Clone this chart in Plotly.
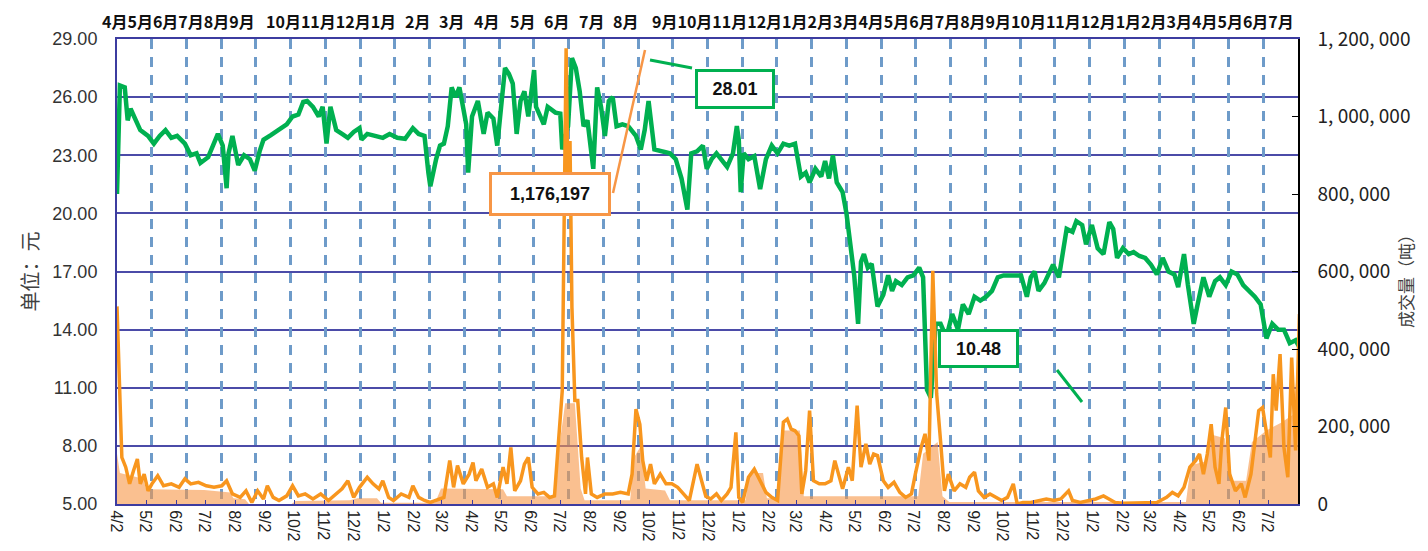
import pandas as pd
import plotly.graph_objects as go

# ---------------- data ----------------
START = "2011-04-02"
END = "2014-08-01T12:00"

PRICE_DAY = [0, 3, 8, 11, 14, 20, 24, 32, 38, 44, 50, 56, 62, 70, 76, 82, 86, 94, 100, 104,
             109, 113, 115, 119, 125, 131, 137, 142, 147, 151, 159, 167, 175, 181, 187, 192, 196, 202, 208, 212,
             216, 220, 226, 232, 238, 244, 250, 252, 258, 266, 274, 281, 289, 297, 305, 311, 317, 321, 323, 329,
             333, 337, 341, 345, 349, 353, 357, 360, 362, 366, 372, 378, 382, 388, 392, 396, 400, 404, 408, 412,
             416, 420, 424, 430, 432, 440, 444, 452, 457, 459, 465, 469, 473, 477, 481, 485, 491, 495, 499, 503,
             507, 511, 515, 521, 527, 535, 540, 544, 548, 554, 562, 570, 576, 582, 588, 592, 598, 604, 608, 613,
             618, 623, 629, 635, 639, 641, 643, 646, 651, 657, 663, 669, 675, 681, 687, 693, 699, 705, 710, 714,
             720, 726, 730, 734, 738, 742, 748, 752, 756, 760, 764, 767, 770, 774, 778, 784, 790, 795, 799, 803,
             809, 815, 821, 827, 831, 835, 839, 844, 849, 855, 861, 867, 872, 878, 884, 890, 896, 902, 908, 914,
             920, 926, 932, 938, 942, 946, 950, 956, 961, 965, 971, 975, 979, 985, 989, 995, 999, 1005, 1011, 1017,
             1023, 1027, 1031, 1037, 1043, 1048, 1054, 1060, 1066, 1072, 1078, 1084, 1090, 1094, 1100, 1104, 1110, 1114, 1120, 1126,
             1132, 1137, 1143, 1149, 1155, 1161, 1167, 1173, 1179, 1185, 1191, 1197, 1203, 1209, 1215, 1219]
PRICE = [21.0, 26.6, 26.5, 24.8, 25.4, 24.7, 24.3, 24.0, 23.6, 24.0, 24.3, 23.9, 24.0, 23.6, 23.0, 23.1, 22.6, 22.9, 23.6, 24.1,
         23.5, 21.3, 23.1, 24.0, 22.5, 23.0, 22.8, 22.2, 23.2, 23.8, 24.05, 24.3, 24.6, 25.0, 25.1, 25.75, 25.8, 25.5, 25.0, 25.5,
         23.6, 25.5, 24.3, 24.1, 23.9, 24.2, 24.4, 23.8, 24.1, 24.0, 23.9, 24.1, 23.9, 23.85, 24.4, 24.1, 24.0, 22.1, 21.4, 22.8,
         23.5, 23.6, 24.5, 26.5, 26.0, 26.5, 25.5, 24.6, 22.1, 25.0, 25.8, 24.1, 25.2, 24.9, 23.5, 25.7, 27.5, 27.2, 26.7, 24.1,
         25.8, 26.3, 25.0, 27.4, 25.5, 24.6, 25.5, 25.2, 25.15, 23.3, 24.5, 28.01, 27.5, 26.3, 24.5, 24.8, 22.3, 26.5, 25.5, 24.0,
         25.8, 26.0, 24.5, 24.6, 24.5, 24.0, 23.3, 24.3, 25.8, 23.3, 23.2, 23.1, 22.8, 21.8, 20.2, 23.1, 23.2, 23.5, 22.3, 22.8,
         23.1, 22.8, 22.4, 23.1, 24.5, 23.8, 21.1, 23.1, 22.8, 22.95, 21.25, 22.8, 23.5, 23.1, 23.6, 23.5, 23.6, 21.9, 22.1, 21.6,
         22.3, 21.9, 22.7, 21.8, 23.0, 21.6, 21.1, 20.0, 18.5, 16.8, 14.3, 17.5, 17.9, 17.2, 17.4, 15.2, 15.8, 16.8, 16.0, 16.5,
         16.3, 16.7, 16.8, 17.2, 16.7, 10.9, 10.48, 14.3, 14.3, 13.6, 14.8, 14.0, 15.3, 14.8, 15.7, 15.5, 15.7, 16.0, 16.7, 16.8,
         16.8, 16.8, 16.8, 15.7, 16.7, 17.0, 16.0, 16.4, 17.0, 17.35, 16.7, 18.0, 19.2, 19.05, 19.6, 19.4, 18.4, 19.4, 18.2, 17.9,
         19.55, 19.2, 17.7, 18.2, 17.9, 18.0, 17.8, 17.7, 17.35, 16.85, 17.7, 17.0, 16.85, 16.2, 17.9, 16.3, 14.3, 15.3, 16.7, 15.7,
         16.5, 16.7, 16.3, 17.0, 16.85, 16.3, 16.0, 15.7, 15.3, 13.55, 14.3, 14.0, 14.0, 13.3, 13.45, 13.1]

VOL_DAY = [0, 3, 5, 9, 13, 17, 21, 24, 28, 32, 36, 42, 48, 56, 64, 70, 76, 84, 92, 100,
           108, 113, 119, 127, 133, 139, 145, 151, 155, 161, 167, 175, 181, 187, 194, 202, 210, 218, 226, 232,
           238, 244, 250, 258, 264, 270, 274, 280, 285, 293, 301, 305, 311, 317, 323, 329, 337, 343, 347, 351,
           357, 363, 367, 370, 376, 382, 388, 392, 398, 402, 406, 410, 416, 420, 424, 428, 434, 440, 446, 451,
           455, 459, 463, 465, 467, 469, 472, 475, 479, 483, 485, 489, 495, 503, 511, 519, 527, 531, 535, 539,
           542, 546, 550, 554, 560, 566, 572, 578, 584, 590, 598, 603, 607, 612, 618, 623, 629, 633, 638, 641,
           645, 651, 657, 663, 669, 675, 681, 687, 691, 695, 699, 703, 706, 710, 714, 718, 724, 730, 736, 740,
           744, 748, 754, 758, 763, 767, 772, 776, 780, 784, 790, 795, 801, 807, 813, 819, 823, 829, 833, 837,
           841, 845, 849, 853, 857, 863, 869, 875, 879, 884, 888, 894, 900, 906, 912, 918, 924, 928, 934, 942,
           950, 958, 966, 973, 981, 985, 993, 1001, 1009, 1017, 1023, 1029, 1037, 1049, 1060, 1072, 1082, 1088, 1094, 1100,
           1106, 1112, 1116, 1120, 1124, 1128, 1132, 1136, 1139, 1143, 1147, 1153, 1159, 1163, 1169, 1173, 1177, 1181, 1185, 1189,
           1192, 1195, 1199, 1203, 1207, 1211, 1215, 1219]
VOL = [510000, 301000, 120000, 95000, 52000, 86000, 116000, 52000, 77000, 34000, 52000, 73000, 47000, 52000, 43000, 65000, 52000, 56000, 47000, 43000,
       47000, 60000, 26000, 17000, 34000, 4000, 34000, 13000, 47000, 17000, 9000, 21000, 47000, 21000, 26000, 13000, 26000, 9000, 26000, 39000,
       60000, 17000, 43000, 69000, 52000, 39000, 60000, 17000, 9000, 26000, 17000, 47000, 17000, 9000, 4000, 9000, 17000, 112000, 43000, 99000,
       52000, 77000, 107000, 60000, 90000, 43000, 52000, 17000, 95000, 52000, 146000, 34000, 60000, 103000, 120000, 43000, 26000, 30000, 17000, 21000,
       163000, 292000, 1176197, 808000, 937000, 507000, 267000, 267000, 120000, 26000, 120000, 26000, 17000, 26000, 26000, 30000, 26000, 77000, 245000, 206000,
       112000, 60000, 103000, 52000, 77000, 52000, 52000, 43000, 26000, 9000, 103000, 52000, 20000, 13000, 26000, 9000, 26000, 43000, 185000, 17000,
       4000, 69000, 90000, 60000, 30000, 17000, 9000, 211000, 219000, 193000, 189000, 176000, 26000, 86000, 241000, 60000, 52000, 52000, 60000, 112000,
       77000, 39000, 95000, 60000, 254000, 95000, 155000, 103000, 129000, 125000, 60000, 43000, 56000, 30000, 17000, 26000, 77000, 146000, 181000, 112000,
       602000, 284000, 163000, 34000, 77000, 34000, 52000, 43000, 69000, 82000, 34000, 17000, 26000, 17000, 9000, 17000, 52000, 0, 4000, 4000,
       9000, 13000, 9000, 13000, 34000, 9000, 4000, 9000, 13000, 21000, 13000, 4000, 2000, 2000, 2000, 4000, 17000, 30000, 21000, 43000,
       95000, 112000, 129000, 77000, 129000, 206000, 95000, 52000, 163000, 249000, 77000, 34000, 52000, 17000, 77000, 163000, 241000, 249000, 181000, 120000,
       335000, 241000, 387000, 146000, 69000, 378000, 138000, 490000]

BASE_DAY = [0, 3, 27, 30, 90, 117, 120, 132, 136, 180, 184, 240, 248, 268, 272, 328, 334, 398, 402, 452,
            456, 462, 472, 478, 482, 529, 533, 540, 545, 565, 570, 648, 652, 666, 670, 682, 686, 704, 708, 826,
            831, 846, 851, 858, 1102, 1107, 1122, 1127, 1142, 1150, 1164, 1170, 1185, 1200, 1212, 1219]
BASE_VOL = [130000, 80000, 65000, 38000, 36000, 30000, 15000, 12000, 0, 0, 8000, 10000, 15000, 15000, 3000, 3000, 40000, 38000, 20000, 20000,
            150000, 260000, 260000, 40000, 10000, 10000, 120000, 150000, 40000, 35000, 10000, 10000, 80000, 80000, 15000, 15000, 190000, 190000, 20000, 20000,
            130000, 160000, 20000, 5000, 5000, 100000, 110000, 180000, 170000, 60000, 60000, 160000, 190000, 210000, 230000, 400000]

TOP_MONTH_GROUPS = ["4月5月6月7月8月9月", "10月11月12月1月", "2月", "3月", "4月", "5月", "6月", "7月", "8月",
                    "9月10月11月12月1月2月3月4月5月6月7月8月9月10月11月12月1月2月3月4月5月6月7月"]

VOL_TICKS = [0, 200000, 400000, 600000, 800000, 1000000, 1200000]
VOL_TICKTEXT = ["0", "200, 000", "400, 000", "600, 000", "800, 000", "1, 000, 000", "1, 200, 000"]

LEFT_TITLE = "单位：元"
RIGHT_TITLE = "成交量（吨）"
LABEL_MAX_PRICE = "28.01"
LABEL_MAX_VOL = "1,176,197"
LABEL_MIN_PRICE = "10.48"

# ---------------- layout geometry ----------------
# The page body has an 8px default margin; size the figure so the whole page is 1428x551.
BODY = 8
PAGE_W, PAGE_H = 1428, 551
PLOT_L, PLOT_R, PLOT_T, PLOT_B = 117, 1298, 39, 504      # plot area in page pixels
W, H = PAGE_W - 2 * BODY, PAGE_H - 2 * BODY
ML, MT = PLOT_L - BODY, PLOT_T - BODY
MR, MB = (BODY + W) - PLOT_R, (BODY + H) - PLOT_B
PW, PH = PLOT_R - PLOT_L, PLOT_B - PLOT_T


def px(xp):
    return (xp - PLOT_L) / PW


def py(yp):
    return (PLOT_B - yp) / PH


def days_to_dates(days):
    return pd.Timestamp(START) + pd.to_timedelta(days, unit="D")


GREEN = "#00B050"
ORANGE = "#F8961E"
NAVY = "#3C3CA0"

fig = go.Figure()

fig.add_trace(go.Scatter(x=days_to_dates(PRICE_DAY), y=PRICE, mode="lines",
                         line=dict(color=GREEN, width=4.5), yaxis="y", hoverinfo="x+y"))
fig.add_trace(go.Scatter(x=days_to_dates(BASE_DAY), y=BASE_VOL, mode="lines", fill="tozeroy",
                         fillcolor="rgba(246,150,70,0.6)", line=dict(width=0), yaxis="y2"))
fig.add_trace(go.Scatter(x=days_to_dates(VOL_DAY), y=VOL, mode="lines",
                         line=dict(color=ORANGE, width=3.5), yaxis="y2"))
# helper trace so the dashed-grid overlay axis is rendered
fig.add_trace(go.Scatter(x=[None], y=[None], xaxis="x2", yaxis="y", mode="lines", hoverinfo="skip"))

# top month labels
group_centers = [178.5, 331, 417.5, 451, 486.5, 522, 556.5, 591, 625.5, 972.5]
annotations = []
for txt, c in zip(TOP_MONTH_GROUPS, group_centers):
    annotations.append(dict(x=px(c), y=py(21), xref="paper", yref="paper", text="<b>" + txt + "</b>",
                            showarrow=False, xanchor="center", yanchor="middle",
                            font=dict(family="Noto Sans CJK SC", size=16, color="#111")))

box_font = dict(family="Liberation Sans", size=18, color="#111")
annotations += [
    dict(x=px(735), y=py(68.5), xref="paper", yref="paper", text="<b>" + LABEL_MAX_PRICE + "</b>",
         showarrow=False, bordercolor=GREEN, borderwidth=3, bgcolor="white", width=72, height=32,
         borderpad=1, font=box_font),
    dict(x=px(549.5), y=py(194.5), xref="paper", yref="paper", text="<b>" + LABEL_MAX_VOL + "</b>",
         showarrow=False, bordercolor="#F79646", borderwidth=3, bgcolor="white", width=114, height=36,
         borderpad=1, font=box_font),
    dict(x=px(1018.5), y=py(368), xref="paper", yref="paper", text="<b>" + LABEL_MIN_PRICE + "</b>",
         showarrow=False, bordercolor=GREEN, borderwidth=3, bgcolor="white", width=73, height=31,
         borderpad=1, font=box_font),
    dict(x=px(1405), y=py(277), xref="paper", yref="paper", text=RIGHT_TITLE, textangle=-90,
         showarrow=False, xanchor="center", yanchor="middle",
         font=dict(family="Noto Sans CJK SC", size=17, color="#404040")),
]

shapes = [
    dict(type="line", xref="paper", yref="paper", x0=px(650), y0=py(60), x1=px(692), y1=py(68),
         line=dict(color=GREEN, width=3)),
    dict(type="line", xref="paper", yref="paper", x0=px(613), y0=py(193), x1=px(645), y1=py(50),
         line=dict(color="#F79646", width=2.5)),
    dict(type="line", xref="paper", yref="paper", x0=px(1057), y0=py(370), x1=px(1082), y1=py(402),
         line=dict(color=GREEN, width=3)),
]

fig.update_layout(
    width=W, height=H,
    margin=dict(l=ML, r=MR, t=MT, b=MB, pad=0, autoexpand=False),
    paper_bgcolor="white", plot_bgcolor="white",
    showlegend=False,
    annotations=annotations,
    shapes=shapes,
    xaxis=dict(type="date", range=[START, END], tick0=START, dtick="M1", tickformat="%-m/%-d",
               tickangle=90, tickfont=dict(family="Liberation Sans", size=16, color="#222"),
               showgrid=False, zeroline=False, showline=True, linecolor=NAVY, linewidth=2, mirror=True,
               ticks="inside", ticklen=4, tickcolor=NAVY, ticklabelstandoff=1, ticklabelshift=-1,
               automargin=False),
    xaxis2=dict(range=[0, 34], dtick=1, overlaying="x", anchor="y", side="bottom",
                showticklabels=False, ticks="", showline=False, zeroline=False, automargin=False,
                showgrid=True, gridcolor="#6E9BC9", gridwidth=2.5, griddash="10px,8px"),
    yaxis=dict(range=[5, 29], tick0=5, dtick=3, tickformat=".2f",
               tickfont=dict(family="Liberation Sans", size=18, color="#333"),
               showgrid=True, gridcolor="#4B4BA8", gridwidth=1.5, zeroline=False,
               showline=True, linecolor=NAVY, linewidth=2, ticks="", ticklabelstandoff=14,
               automargin=False,
               title=dict(text=LEFT_TITLE, font=dict(family="Noto Sans CJK SC", size=20, color="#404040"),
                          standoff=8)),
    yaxis2=dict(range=[0, 1200000], tickvals=VOL_TICKS, ticktext=VOL_TICKTEXT, overlaying="y",
                side="right", showgrid=False, zeroline=False, showline=True, linecolor="black",
                linewidth=1.5, ticks="inside", ticklen=6, tickcolor="black", ticklabelstandoff=14,
                automargin=False,
                tickfont=dict(family="Noto Sans CJK SC", size=19, color="#222")),
)

fig.write_html("out.html")
